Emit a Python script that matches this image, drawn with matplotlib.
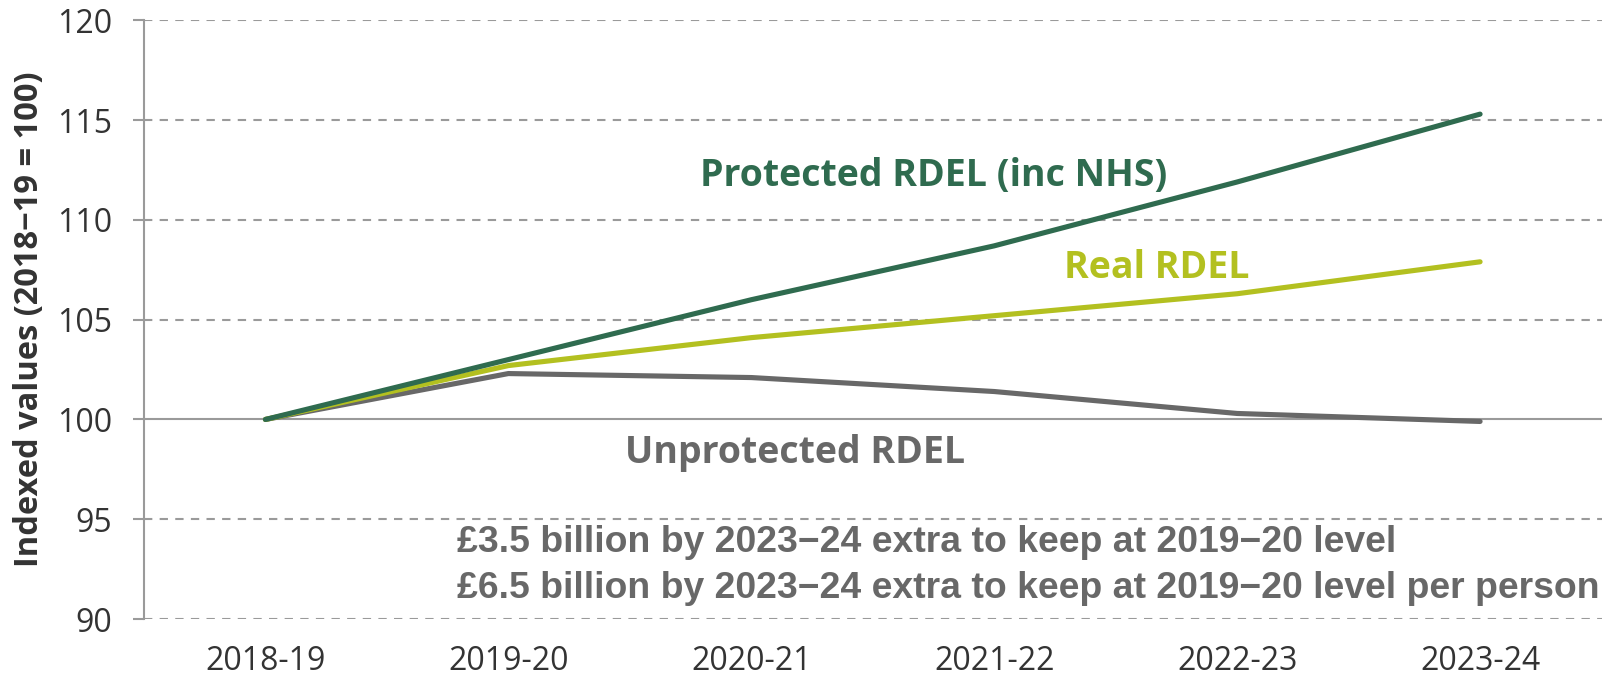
import matplotlib
matplotlib.use('Agg')
import matplotlib.pyplot as plt

# data
years = ['2018-19', '2019-20', '2020-21', '2021-22', '2022-23', '2023-24']
protected = [100, 103.0, 106.0, 108.7, 111.9, 115.3]
real = [100, 102.7, 104.1, 105.2, 106.3, 107.9]
unprotected = [100, 102.3, 102.1, 101.4, 100.3, 99.9]
yticks = [90, 95, 100, 105, 110, 115, 120]

c_prot = '#2f6b4f'
c_real = '#b3c020'
c_unprot = '#686868'
c_grid = '#9a9a9a'
c_text = '#333333'

plt.rcParams['font.family'] = ['Open Sans', 'DejaVu Sans']

fig = plt.figure(figsize=(16.07, 6.78), dpi=100)
ax = fig.add_axes([0.0896, 0.087, 0.907, 0.883])

x = list(range(len(years)))
ax.plot(x, unprotected, color=c_unprot, lw=3.7, solid_capstyle='round', zorder=3)
ax.plot(x, real, color=c_real, lw=3.7, solid_capstyle='round', zorder=4)
ax.plot(x, protected, color=c_prot, lw=3.7, solid_capstyle='round', zorder=5)

ax.set_xlim(-0.5, 5.5)
ax.set_ylim(90, 120)
ax.set_yticks(yticks)
ax.set_xticks(x)
ax.set_xticklabels(years)

# gridlines, the 100 line is solid
for t in yticks:
    if t == 100:
        ax.axhline(t, color=c_grid, lw=1.5, zorder=1)
    else:
        ax.axhline(t, color=c_grid, lw=1.5, ls=(0, (4, 3.5)), zorder=1)

for s in ['top', 'right', 'bottom']:
    ax.spines[s].set_visible(False)
ax.spines['left'].set_color(c_grid)
ax.spines['left'].set_linewidth(1.5)

ax.tick_params(axis='y', length=8, width=1.5, color=c_grid, pad=15,
               labelsize=23, labelcolor=c_text)
ax.tick_params(axis='x', length=0, pad=19, labelsize=23, labelcolor=c_text)

ax.set_ylabel('Indexed values (2018\u221219 = 100)', fontsize=23.5,
              fontweight='bold', color=c_text, labelpad=8)

# series labels
ax.text(2.75, 112.2, 'Protected RDEL (inc NHS)', color=c_prot, fontsize=27,
        fontweight='bold', ha='center', va='center')
ax.text(3.67, 107.6, 'Real RDEL', color=c_real, fontsize=27,
        fontweight='bold', ha='center', va='center')
ax.text(2.18, 98.3, 'Unprotected RDEL', color=c_unprot, fontsize=27,
        fontweight='bold', ha='center', va='center')

ax.text(0.79, 93.85, '\u00a33.5 billion by 2023\u221224 extra to keep at 2019\u221220 level',
        color=c_unprot, fontsize=26.9, fontweight='bold', ha='left', va='center',
        family=['Liberation Sans', 'DejaVu Sans'])
ax.text(0.79, 91.55, '\u00a36.5 billion by 2023\u221224 extra to keep at 2019\u221220 level per person',
        color=c_unprot, fontsize=26.9, fontweight='bold', ha='left', va='center',
        family=['Liberation Sans', 'DejaVu Sans'])

fig.savefig('out.png', dpi=100)
